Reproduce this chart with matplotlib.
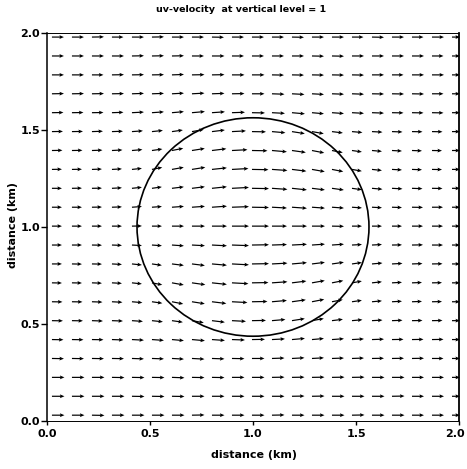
import numpy as np
import matplotlib
matplotlib.use("Agg")
from matplotlib import pyplot as plt
from matplotlib.patches import Circle
from matplotlib.transforms import ScaledTranslation

plt.rcParams['font.family'] = ['DejaVu Sans']

# grid of the horizontal velocity field (km), arrows drawn from their tails
x_grid = np.linspace(0.024, 1.966, 21)
y_grid = np.linspace(1.979, 0.03, 21)   # rows listed from top to bottom

# obstacle outline
circle_center = (1.0, 1.0)
circle_radius = 0.563

# flow direction at each grid point, degrees from east (rows top -> bottom)
angle_deg = np.array([
    [0, 0, 1, 0, 0, 1, 0, 0, -1, 0, 0, 0, -1, 0, 0, 0, -1, 0, 0, 0, 0],
    [0, 0, 0, 0, 1, 1, 1, 0, 0, 0, 0, 0, 0, -1, -1, 0, 0, 0, 0, 0, 0],
    [0, 0, 0, 1, 1, 1, 2, 1, 1, 0, 0, -1, -1, -1, -1, -1, 0, 0, 0, 0, 0],
    [1, 1, 1, 1, 2, 2, 3, 3, 2, 1, 0, -2, -3, -3, -2, -2, -1, -1, -1, 0, 0],
    [1, 1, 1, 2, 3, 4, 5, 5, 4, 2, -1, -3, -5, -5, -4, -3, -2, -1, -1, -1, 0],
    [1, 1, 2, 2, 4, 6, 8, 10, 7, 3, -1, -5, -9, -10, -7, -5, -3, -2, -1, -1, 0],
    [1, 1, 2, 3, 5, 8, 11, 9, 7, 3, -1, -5, -8, -11, -11, -8, -5, -3, -2, -1, 0],
    [1, 1, 2, 3, 6, 11, 10, 9, 6, 3, -1, -4, -7, -10, -11, -10, -6, -3, -2, -1, 0],
    [0, 1, 1, 3, 6, 8, 7, 7, 6, 3, -1, -4, -6, -7, -8, -8, -5, -3, -2, -1, 0],
    [0, 0, 1, 2, 4, 4, 4, 4, 4, 2, -1, -3, -4, -4, -4, -4, -3, -2, -1, 0, 0],
    [0, 0, 0, 0, 1, 0, 0, 0, 0, 0, 0, 0, 0, 0, -1, 0, 0, 0, 0, 0, 0],
    [0, 0, -1, -2, -3, -4, -4, -3, -3, -2, 1, 2, 3, 4, 4, 3, 3, 1, 1, 0, 0],
    [0, -1, -1, -3, -6, -8, -7, -7, -5, -3, 1, 3, 5, 7, 8, 8, 5, 3, 2, 1, 0],
    [-1, -1, -2, -3, -6, -11, -10, -8, -6, -3, 1, 4, 7, 10, 11, 10, 6, 3, 2, 1, 0],
    [-1, -1, -2, -3, -5, -8, -11, -9, -7, -3, 1, 5, 8, 11, 11, 8, 5, 3, 2, 1, 0],
    [-1, -1, -2, -2, -4, -6, -8, -10, -7, -3, 1, 5, 9, 10, 7, 5, 3, 2, 1, 1, 0],
    [-1, -1, -1, -2, -3, -4, -5, -5, -4, -2, 1, 3, 5, 5, 4, 3, 2, 1, 1, 1, 0],
    [-1, -1, -1, -1, -2, -2, -3, -3, -2, -1, 0, 2, 3, 3, 2, 2, 1, 1, 1, 0, 0],
    [0, 0, 0, -1, -1, -1, -2, -1, -1, 0, 0, 1, 1, 1, 1, 1, 0, 0, 0, 0, 0],
    [0, 0, 0, 0, -1, -1, -1, 0, 0, 0, 0, 0, 1, 1, 0, 0, 0, 1, 0, 0, 0],
    [0, 0, -1, 0, 0, 0, 0, 1, 0, 0, 0, 1, 0, 0, 0, 1, 0, 0, 0, 0, 0],
])

# wind speed (m/s) at each grid point, rows top -> bottom
speed = np.array([
    [1.2, 1.2, 1.2, 1.15, 1.2, 1.2, 1.2, 1.2, 1.2, 1.2, 1.2, 1.2, 1.2, 1.2, 1.2, 1.15, 1.2, 1.2, 1.15, 1.2, 0.8],
    [1.2, 1.2, 1.2, 1.2, 1.2, 1.2, 1.2, 1.2, 1.25, 1.2, 1.2, 1.2, 1.2, 1.2, 1.2, 1.2, 1.2, 1.2, 1.2, 1.15, 0.8],
    [1.2, 1.2, 1.15, 1.2, 1.2, 1.2, 1.2, 1.25, 1.25, 1.25, 1.25, 1.2, 1.2, 1.2, 1.2, 1.2, 1.2, 1.15, 1.2, 1.2, 0.8],
    [1.2, 1.2, 1.2, 1.2, 1.2, 1.2, 1.2, 1.25, 1.25, 1.25, 1.25, 1.25, 1.25, 1.2, 1.2, 1.2, 1.2, 1.2, 1.2, 1.15, 0.8],
    [1.15, 1.15, 1.15, 1.15, 1.2, 1.2, 1.2, 1.3, 1.3, 1.3, 1.3, 1.3, 1.3, 1.2, 1.2, 1.2, 1.2, 1.15, 1.15, 1.15, 0.8],
    [1.1, 1.1, 1.1, 1.1, 1.1, 1.1, 1.1, 1.2, 1.3, 1.4, 1.4, 1.35, 1.3, 1.2, 1.1, 1.05, 1.05, 1.05, 1.05, 1.05, 0.8],
    [1.05, 1.05, 1.05, 1.05, 1.05, 1.05, 1.15, 1.3, 1.45, 1.55, 1.55, 1.5, 1.4, 1.25, 1.1, 1.0, 1.0, 1.0, 1.0, 1.0, 0.8],
    [1.0, 1.0, 1.0, 1.0, 1.0, 1.05, 1.2, 1.35, 1.5, 1.65, 1.65, 1.55, 1.45, 1.3, 1.15, 1.0, 1.0, 1.0, 1.0, 1.0, 0.8],
    [1.0, 1.0, 1.0, 1.0, 1.0, 1.0, 1.2, 1.3, 1.5, 1.7, 1.7, 1.55, 1.5, 1.3, 1.2, 1.0, 1.05, 1.05, 1.05, 1.05, 0.8],
    [1.0, 1.0, 1.0, 1.0, 1.0, 1.0, 1.2, 1.3, 1.5, 1.7, 1.7, 1.5, 1.5, 1.3, 1.2, 1.0, 1.0, 1.0, 1.1, 1.1, 0.8],
    [1.0, 1.0, 1.0, 1.0, 1.0, 1.0, 1.2, 1.3, 1.5, 1.7, 1.7, 1.5, 1.5, 1.3, 1.2, 1.0, 1.0, 1.0, 1.1, 1.1, 0.8],
    [1.0, 1.0, 1.0, 1.0, 1.0, 1.0, 1.2, 1.3, 1.5, 1.7, 1.7, 1.5, 1.5, 1.3, 1.2, 1.0, 1.0, 1.0, 1.1, 1.1, 0.8],
    [1.0, 1.0, 1.0, 1.0, 1.0, 1.0, 1.2, 1.3, 1.5, 1.7, 1.7, 1.55, 1.5, 1.3, 1.2, 1.0, 1.05, 1.05, 1.05, 1.05, 0.8],
    [1.0, 1.0, 1.0, 1.0, 1.0, 1.05, 1.2, 1.35, 1.5, 1.65, 1.65, 1.55, 1.45, 1.3, 1.15, 1.0, 1.0, 1.0, 1.0, 1.0, 0.8],
    [1.05, 1.05, 1.05, 1.05, 1.05, 1.05, 1.15, 1.3, 1.45, 1.55, 1.55, 1.5, 1.4, 1.25, 1.1, 1.0, 1.0, 1.0, 1.0, 1.0, 0.8],
    [1.1, 1.1, 1.1, 1.1, 1.1, 1.1, 1.1, 1.2, 1.3, 1.4, 1.4, 1.35, 1.3, 1.2, 1.1, 1.05, 1.05, 1.05, 1.05, 1.05, 0.8],
    [1.15, 1.15, 1.15, 1.15, 1.2, 1.2, 1.2, 1.3, 1.3, 1.3, 1.3, 1.3, 1.3, 1.2, 1.2, 1.2, 1.2, 1.15, 1.15, 1.15, 0.8],
    [1.2, 1.2, 1.2, 1.2, 1.2, 1.2, 1.2, 1.25, 1.25, 1.25, 1.25, 1.25, 1.25, 1.2, 1.2, 1.2, 1.2, 1.2, 1.2, 1.15, 0.8],
    [1.25, 1.25, 1.25, 1.25, 1.25, 1.25, 1.25, 1.25, 1.25, 1.25, 1.25, 1.25, 1.25, 1.25, 1.25, 1.25, 1.25, 1.25, 1.2, 1.2, 0.8],
    [1.25, 1.25, 1.25, 1.25, 1.25, 1.25, 1.25, 1.25, 1.25, 1.25, 1.25, 1.25, 1.25, 1.25, 1.25, 1.25, 1.25, 1.25, 1.2, 1.2, 0.8],
    [1.25, 1.25, 1.25, 1.25, 1.25, 1.25, 1.25, 1.25, 1.25, 1.25, 1.25, 1.25, 1.25, 1.25, 1.25, 1.25, 1.25, 1.25, 1.2, 1.2, 0.8],
])

X, Y = np.meshgrid(x_grid, y_grid)
U = speed * np.cos(np.radians(angle_deg))
V = speed * np.sin(np.radians(angle_deg))

fig = plt.figure(figsize=(4.67, 4.69), dpi=100)
ax = fig.add_axes([47 / 467, 48 / 469, 412 / 467, 388 / 469])

q = ax.quiver(X, Y, U, V, pivot='tail', angles='uv', scale_units='inches', scale=10,
              units='inches', width=0.012, headwidth=3.2, headlength=3.8,
              headaxislength=3.3, color='black')
q.set_clip_on(False)

ax.add_patch(Circle(circle_center, circle_radius, fill=False, edgecolor='black', linewidth=1.2))

ax.set_xlim(0, 2)
ax.set_ylim(0, 2)
ticks = [0.0, 0.5, 1.0, 1.5, 2.0]
ax.set_xticks(ticks)
ax.set_yticks(ticks)
ax.set_xticklabels([f"{t:.1f}" for t in ticks], fontsize=8, fontweight='bold')
ax.set_yticklabels([f"{t:.1f}" for t in ticks], fontsize=8, fontweight='bold')
ax.tick_params(axis='y', direction='out', length=4, width=1, pad=1)
ax.tick_params(axis='x', direction='out', length=3, width=1, pad=3)

# keep the last x label inside the figure
last = ax.get_xticklabels()[-1]
last.set_transform(last.get_transform() + ScaledTranslation(-4 / 100, 0, fig.dpi_scale_trans))

ax.spines['left'].set_linewidth(1.1)
ax.spines['right'].set_linewidth(1.3)
for side in ('top', 'bottom'):
    ax.spines[side].set_linestyle((0, (1, 1)))
    ax.spines[side].set_linewidth(0.7)

fig.text(241 / 467, 1 - 10 / 469, "uv-velocity  at vertical level = 1",
         ha='center', va='center', fontsize=6.8, fontweight='bold')
fig.text(254 / 467, 1 - 455 / 469, "distance (km)", ha='center', va='center',
         fontsize=8, fontweight='bold')
fig.text(13 / 467, 1 - 225 / 469, "distance (km)", ha='center', va='center',
         rotation=90, fontsize=8, fontweight='bold')

fig.savefig("out.png", dpi=100)
